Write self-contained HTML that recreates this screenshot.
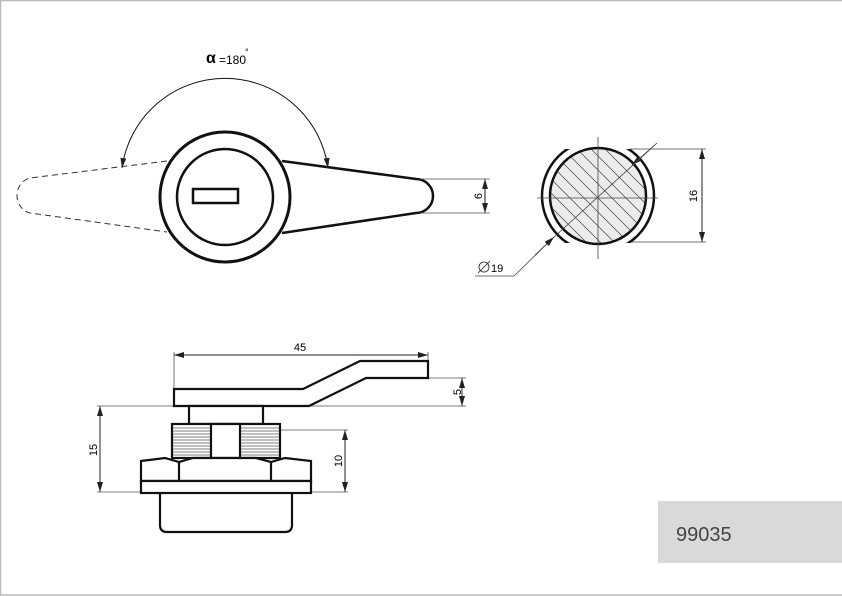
<!DOCTYPE html>
<html><head><style>html,body{margin:0;padding:0;background:#fff}svg{display:block}</style></head><body>
<svg width="842" height="596" viewBox="0 0 842 596" xmlns="http://www.w3.org/2000/svg" font-family="Liberation Sans, sans-serif">
<defs>
<marker id="a" viewBox="0 0 10 6" refX="10" refY="3" markerWidth="10" markerHeight="6" orient="auto-start-reverse" markerUnits="userSpaceOnUse"><path d="M0,0 L10,3 L0,6z" fill="#222"/></marker>
<clipPath id="ci"><circle cx="598" cy="196" r="48"/></clipPath>
<clipPath id="co"><rect x="530" y="149" width="140" height="94"/></clipPath>
</defs>
<rect x="0.5" y="0.5" width="900" height="594.5" fill="none" stroke="#bbb" stroke-width="1.5"/>
<g stroke="#111" fill="none">
<path d="M282,161 L416,179 A17,17 0 0 1 416,213 L282,233" stroke-width="2.5"/>
<path d="M167,161 L30,178 A17,18 0 0 0 30,213 L167,232" stroke-width="1" stroke-dasharray="6,4" stroke="#333"/>
<circle cx="225" cy="197" r="65" stroke-width="3" fill="#fff"/>
<circle cx="225" cy="197" r="48" stroke-width="2.5"/>
<rect x="193" y="189" width="45" height="14" stroke-width="2.5"/>
<path d="M122,168 A104,104 0 0 1 328,168" stroke-width="1" marker-start="url(#a)" marker-end="url(#a)"/>
<g stroke-width="0.8" stroke="#555"><line x1="420" y1="179" x2="490" y2="179"/><line x1="420" y1="213" x2="490" y2="213"/></g>
<line x1="485" y1="179" x2="485" y2="213" stroke-width="1" marker-start="url(#a)" marker-end="url(#a)"/>
</g>
<text font-size="11" transform="translate(482,196) rotate(-90)" text-anchor="middle">6</text>
<text x="206" y="63" font-size="16" font-weight="bold">α</text><text x="219" y="64" font-size="12">=180</text><text x="245" y="55" font-size="9">°</text>
<g clip-path="url(#co)"><circle cx="598" cy="196" r="56" fill="none" stroke="#111" stroke-width="2.5"/></g>
<circle cx="598" cy="196" r="48" fill="#ececec"/>
<g clip-path="url(#ci)" stroke="#444" stroke-width="0.7">
<path d="M500,100 L700,300 M514,100 L714,300 M528,100 L728,300 M542,100 L742,300 M556,100 L756,300 M570,100 L770,300 M584,100 L784,300 M486,100 L686,300 M472,100 L672,300 M458,100 L658,300 M444,100 L644,300 M430,100 L630,300 M416,100 L616,300"/>
</g>
<circle cx="598" cy="196" r="48" fill="none" stroke="#111" stroke-width="2.5"/>
<g stroke="#444" stroke-width="0.8" fill="none">
<line x1="598" y1="137" x2="598" y2="259"/><line x1="537" y1="198" x2="658" y2="198"/>
<line x1="630" y1="149" x2="706" y2="149"/><line x1="630" y1="242" x2="706" y2="242"/>
<line x1="657" y1="143" x2="632" y2="165" marker-end="url(#a)"/>
<line x1="655" y1="145" x2="553" y2="238"/>
<path d="M553,238 L514,276 L475,276"/>
<line x1="535" y1="255" x2="554" y2="237" marker-end="url(#a)"/>
</g>
<line x1="702" y1="149" x2="702" y2="242" stroke="#222" stroke-width="1" marker-start="url(#a)" marker-end="url(#a)"/>
<text font-size="11" transform="translate(697,196) rotate(-90)" text-anchor="middle">16</text>
<circle cx="484" cy="267" r="5" fill="none" stroke="#222" stroke-width="0.8"/><line x1="478" y1="273" x2="490" y2="261" stroke="#222" stroke-width="0.8"/>
<text x="491" y="272" font-size="11">19</text>
<g stroke="#555" stroke-width="0.8" fill="none">
<line x1="174" y1="352" x2="174" y2="389"/><line x1="428" y1="352" x2="428" y2="361"/>
<line x1="428" y1="378" x2="466" y2="378"/><line x1="97" y1="406" x2="466" y2="406"/>
<line x1="97" y1="492" x2="141" y2="492"/><line x1="280" y1="430" x2="348" y2="430"/><line x1="311" y1="492" x2="348" y2="492"/>
</g>
<g stroke="#222" stroke-width="1" fill="none">
<line x1="174" y1="355" x2="428" y2="355" marker-start="url(#a)" marker-end="url(#a)"/>
<line x1="462" y1="378" x2="462" y2="406" marker-start="url(#a)" marker-end="url(#a)"/>
<line x1="100" y1="406" x2="100" y2="492" marker-start="url(#a)" marker-end="url(#a)"/>
<line x1="345" y1="430" x2="345" y2="492" marker-start="url(#a)" marker-end="url(#a)"/>
</g>
<text x="300" y="351" font-size="11" text-anchor="middle">45</text>
<text font-size="11" transform="translate(461,392) rotate(-90)" text-anchor="middle">5</text>
<text font-size="11" transform="translate(97,450) rotate(-90)" text-anchor="middle">15</text>
<text font-size="11" transform="translate(342,461) rotate(-90)" text-anchor="middle">10</text>
<g stroke="#111" stroke-width="2.2" fill="#fff" stroke-linejoin="miter">
<path d="M174,389 L174,406 L309,406 L366,378 L428,378 L428,361 L360,361 L303,389 Z"/>
<rect x="189" y="406" width="74" height="18"/>
<rect x="172" y="424" width="108" height="34"/>
<rect x="211" y="424" width="29" height="34"/>
<path d="M160,493 L160,525 Q160,532 167,532 L285,532 Q292,532 292,525 L292,493"/>
<path d="M141,481 L141,461 L165,458 L179,462 L193,458 L256,458 L271,462 L285,458 L311,461 L311,481 Z"/>
<line x1="179" y1="462" x2="179" y2="481"/><line x1="271" y1="462" x2="271" y2="481"/>
<rect x="141" y="481" width="170" height="12"/>
</g>
<g stroke="#555" stroke-width="0.7">
<path d="M173,428h37M173,431h37M173,434h37M173,437h37M173,440h37M173,443h37M173,446h37M173,449h37M173,452h37M173,455h37"/>
<path d="M241,428h38M241,431h38M241,434h38M241,437h38M241,440h38M241,443h38M241,446h38M241,449h38M241,452h38M241,455h38"/>
</g>
<rect x="658" y="501" width="184" height="62" fill="#d9d9d9"/>
<text x="676" y="541" font-size="20" fill="#444">99035</text>
</svg>
</body></html>
